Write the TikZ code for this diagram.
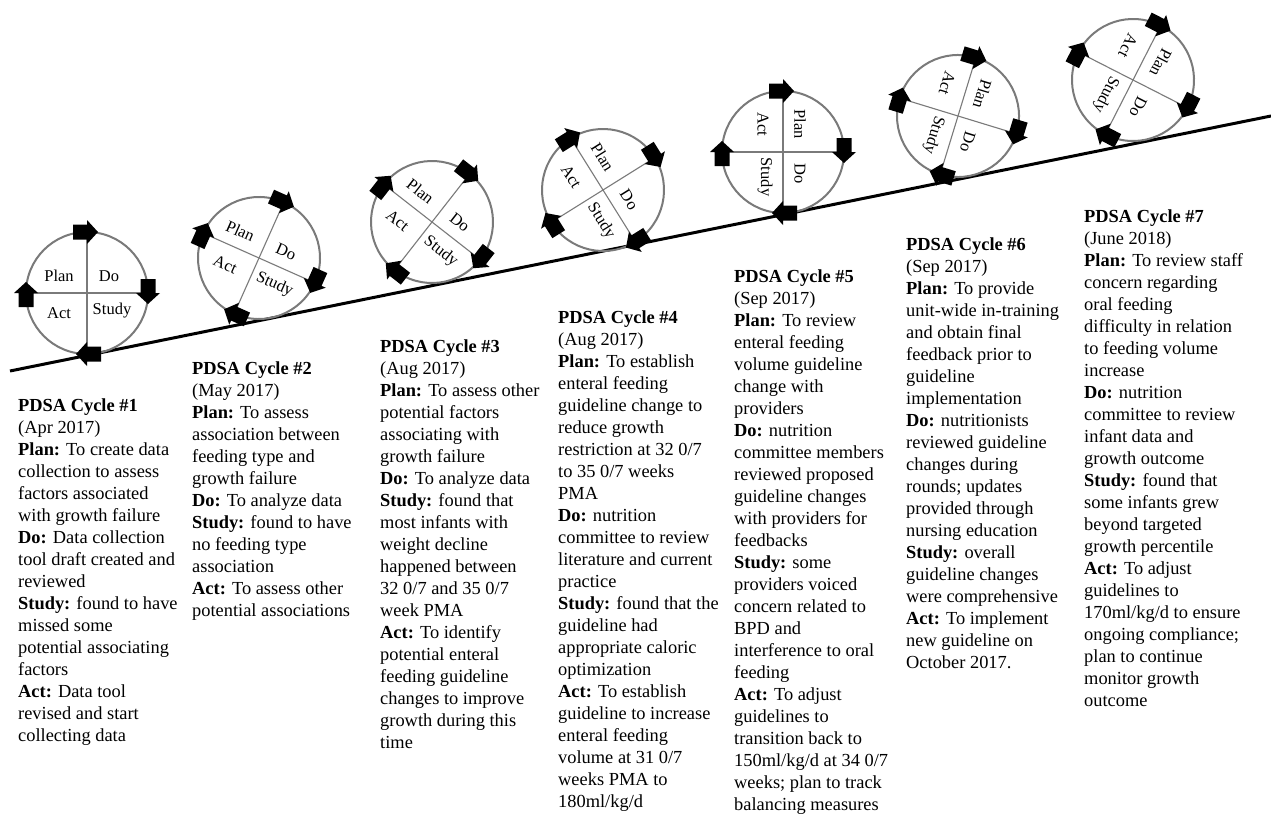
\documentclass[tikz,border=0pt]{standalone}
\usepackage{fontspec}
\setmainfont{Liberation Serif}
\definecolor{ringgray}{HTML}{7A7A7A}
\tikzset{
  ring/.style={draw=ringgray, line width=2pt},
  crossline/.style={draw=ringgray, line width=1.1pt},
  barrow/.style={fill=black},
  quad/.style={font=\fontsize{16.5}{19}\selectfont, inner sep=0pt, transform shape},
  blocktext/.style={anchor=north west, align=left, inner sep=0pt, font=\fontsize{18.4}{22}\selectfont},
  baseline/.style={line width=3pt, draw=black},
}
\newcommand\pdsacycle[3]{%
  \begin{scope}[shift={#2}, rotate=-#3]
    \draw[ring] (0,0) circle (61pt);
    \draw[crossline] (0,-61) -- (0,61);
    \draw[crossline] (-61,0) -- (61,0);
    \node[quad] (#1plan) at (-28,-17) {Plan};
    \node[quad] (#1do) at (22,-17) {Do};
    \node[quad] (#1act) at (-28,20) {Act};
    \node[quad] (#1study) at (25,18) {Study};
    \fill[barrow, shift={(0,-61)}] (-14,-7.5) -- (0,-7.5) -- (0,-12) -- (11,0) -- (0,12) -- (0,7.5) -- (-14,7.5) -- cycle;
    \fill[barrow, shift={(61,0)}, rotate=-90] (-14,-7.5) -- (0,-7.5) -- (0,-12) -- (11,0) -- (0,12) -- (0,7.5) -- (-14,7.5) -- cycle;
    \fill[barrow, shift={(0,61)}, rotate=180] (-14,-7.5) -- (0,-7.5) -- (0,-12) -- (11,0) -- (0,12) -- (0,7.5) -- (-14,7.5) -- cycle;
    \fill[barrow, shift={(-61,0)}, rotate=90] (-14,-7.5) -- (0,-7.5) -- (0,-12) -- (11,0) -- (0,12) -- (0,7.5) -- (-14,7.5) -- cycle;
  \end{scope}%
}
\begin{document}
\begin{tikzpicture}[x=1pt, y=-1pt]
\useasboundingbox (0,0) rectangle (1271,816);
\fill[white] (0,0) rectangle (1271,816);

\coordinate (lstart) at (10,371);
\coordinate (lend) at (1271,116);
\draw[baseline] (lstart) -- (lend);

\pdsacycle{ca}{(87,293)}{0}
\pdsacycle{cb}{(259,258)}{24}
\pdsacycle{cc}{(432,222)}{38}
\pdsacycle{cd}{(603,190)}{58}
\pdsacycle{ce}{(783,152)}{90}
\pdsacycle{cf}{(958,116)}{107}
\pdsacycle{cg}{(1133,80)}{117}

\node[blocktext] (t1) at (18,396) {\strut\textbf{PDSA Cycle \#1}\\(Apr 2017)\\\textbf{Plan:} To create data\\collection to assess\\factors associated\\with growth failure\\\textbf{Do:} Data collection\\tool draft created and\\reviewed\\\textbf{Study:} found to have\\missed some\\potential associating\\factors\\\textbf{Act:} Data tool\\revised and start\\collecting data};

\node[blocktext] (t2) at (192,359) {\strut\textbf{PDSA Cycle \#2}\\(May 2017)\\\textbf{Plan:} To assess\\association between\\feeding type and\\growth failure\\\textbf{Do:} To analyze data\\\textbf{Study:} found to have\\no feeding type\\association\\\textbf{Act:} To assess other\\potential associations};

\node[blocktext] (t3) at (380,337) {\strut\textbf{PDSA Cycle \#3}\\(Aug 2017)\\\textbf{Plan:} To assess other\\potential factors\\associating with\\growth failure\\\textbf{Do:} To analyze data\\\textbf{Study:} found that\\most infants with\\weight decline\\happened between\\32 0/7 and 35 0/7\\week PMA\\\textbf{Act:} To identify\\potential enteral\\feeding guideline\\changes to improve\\growth during this\\time};

\node[blocktext] (t4) at (558,308) {\strut\textbf{PDSA Cycle \#4}\\(Aug 2017)\\\textbf{Plan:} To establish\\enteral feeding\\guideline change to\\reduce growth\\restriction at 32 0/7\\to 35 0/7 weeks\\PMA\\\textbf{Do:} nutrition\\committee to review\\literature and current\\practice\\\textbf{Study:} found that the\\guideline had\\appropriate caloric\\optimization\\\textbf{Act:} To establish\\guideline to increase\\enteral feeding\\volume at 31 0/7\\weeks PMA to\\180ml/kg/d};

\node[blocktext] (t5) at (734,267) {\strut\textbf{PDSA Cycle \#5}\\(Sep 2017)\\\textbf{Plan:} To review\\enteral feeding\\volume guideline\\change with\\providers\\\textbf{Do:} nutrition\\committee members\\reviewed proposed\\guideline changes\\with providers for\\feedbacks\\\textbf{Study:} some\\providers voiced\\concern related to\\BPD and\\interference to oral\\feeding\\\textbf{Act:} To adjust\\guidelines to\\transition back to\\150ml/kg/d at 34 0/7\\weeks; plan to track\\balancing measures};

\node[blocktext] (t6) at (906,235) {\strut\textbf{PDSA Cycle \#6}\\(Sep 2017)\\\textbf{Plan:} To provide\\unit-wide in-training\\and obtain final\\feedback prior to\\guideline\\implementation\\\textbf{Do:} nutritionists\\reviewed guideline\\changes during\\rounds; updates\\provided through\\nursing education\\\textbf{Study:} overall\\guideline changes\\were comprehensive\\\textbf{Act:} To implement\\new guideline on\\October 2017.};

\node[blocktext] (t7) at (1084,207) {\strut\textbf{PDSA Cycle \#7}\\(June 2018)\\\textbf{Plan:} To review staff\\concern regarding\\oral feeding\\difficulty in relation\\to feeding volume\\increase\\\textbf{Do:} nutrition\\committee to review\\infant data and\\growth outcome\\\textbf{Study:} found that\\some infants grew\\beyond targeted\\growth percentile\\\textbf{Act:} To adjust\\guidelines to\\170ml/kg/d to ensure\\ongoing compliance;\\plan to continue\\monitor growth\\outcome};
\end{tikzpicture}
\end{document}
